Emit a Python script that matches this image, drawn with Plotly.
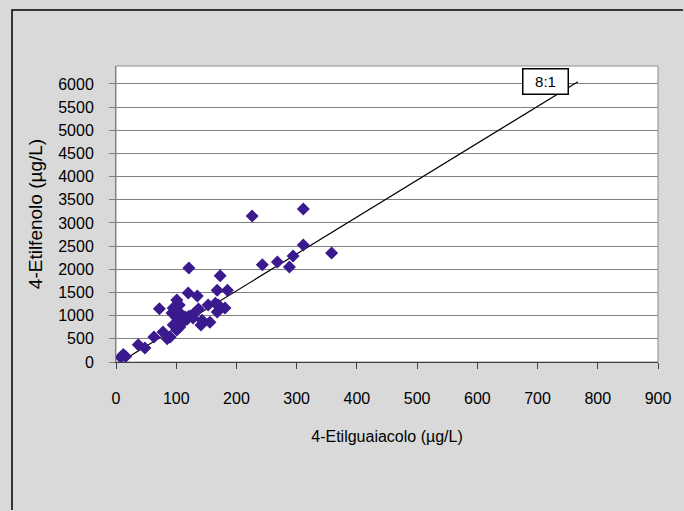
import plotly.graph_objects as go

# 4-Etilguaiacolo (µg/L) vs 4-Etilfenolo (µg/L)
eg_x = [8, 12, 16, 37, 48, 63, 72, 78, 85, 90,
        93, 95, 101, 105, 106, 101, 95, 106, 101, 115,
        121, 128, 120, 121, 135, 137, 141, 143, 153, 156,
        165, 170, 168, 173, 168, 185, 181, 110, 118, 125,
        130, 98, 100, 112,
        226, 243, 268, 288, 294, 311, 311, 358]
ef_y = [100, 160, 120, 370, 300, 540, 1150, 650, 500, 540,
        1060, 1165, 1340, 1230, 1060, 950, 800, 755, 690, 970,
        990, 950, 1490, 2030, 1425, 1145, 800, 900, 1230, 860,
        1270, 1230, 1080, 1860, 1550, 1550, 1165, 850, 920, 1000,
        1050, 1100, 1000, 880,
        3150, 2100, 2160, 2050, 2290, 2525, 3300, 2350]

# 8:1 reference line
ratio_x = [7, 767]
ratio_y = [0, 6050]
ratio_label = "8:1"
label_pos = (713, 6043)

x_ticks = list(range(0, 1000, 100))
y_ticks = list(range(0, 6500, 500))

FONT = "Liberation Sans, Arial, sans-serif"

fig = go.Figure()
fig.add_trace(go.Scatter(x=ratio_x, y=ratio_y, mode="lines",
                         line=dict(color="black", width=1.2),
                         showlegend=False, hoverinfo="skip"))
fig.add_trace(go.Scatter(x=eg_x, y=ef_y, mode="markers",
                         marker=dict(symbol="diamond", size=10, color="#3b1a8f",
                                     line=dict(width=0)),
                         showlegend=False))

fig.add_annotation(x=label_pos[0], y=label_pos[1], text=ratio_label,
                   showarrow=False, font=dict(family=FONT, size=15, color="black"),
                   bgcolor="white", bordercolor="black", borderwidth=1.5,
                   width=42, height=22)

# figure border: an open path along the top and left edges
px = lambda v: (v - 116) / 542
py = lambda v: (362 - v) / 296
fig.add_shape(type="path", xref="paper", yref="paper",
              path=f"M {px(12)},{py(510)} L {px(12)},{py(10)} L {px(683)},{py(10)}",
              line=dict(color="black", width=1.5), layer="above")
# plot-area border
fig.add_shape(type="rect", xref="paper", yref="paper", x0=0, x1=1, y0=0, y1=1,
              line=dict(color="#8c8c8c", width=1), layer="below")

fig.update_layout(
    width=684, height=511,
    margin=dict(l=116, r=26, t=66, b=149),
    paper_bgcolor="#d9d9d9", plot_bgcolor="white",
    font=dict(family=FONT, size=16, color="black"),
    xaxis=dict(range=[0, 900], tickvals=x_ticks, showgrid=False, zeroline=False,
               showline=True, linecolor="#404040", linewidth=1,
               ticks="outside", ticklen=6, tickcolor="#404040",
               ticklabelstandoff=16,
               title=dict(text="4-Etilguaiacolo (µg/L)", font=dict(size=16), standoff=24)),
    yaxis=dict(range=[0, 6388], tickvals=y_ticks, showgrid=True, gridcolor="#808080",
               gridwidth=1, zeroline=False,
               showline=True, linecolor="#808080", linewidth=1,
               ticks="outside", ticklen=6, tickcolor="#808080",
               ticklabelstandoff=12,
               title=dict(text="4-Etilfenolo (µg/L)", font=dict(size=19), standoff=10)),
)

fig.write_html("out.html", config={"displayModeBar": False})
